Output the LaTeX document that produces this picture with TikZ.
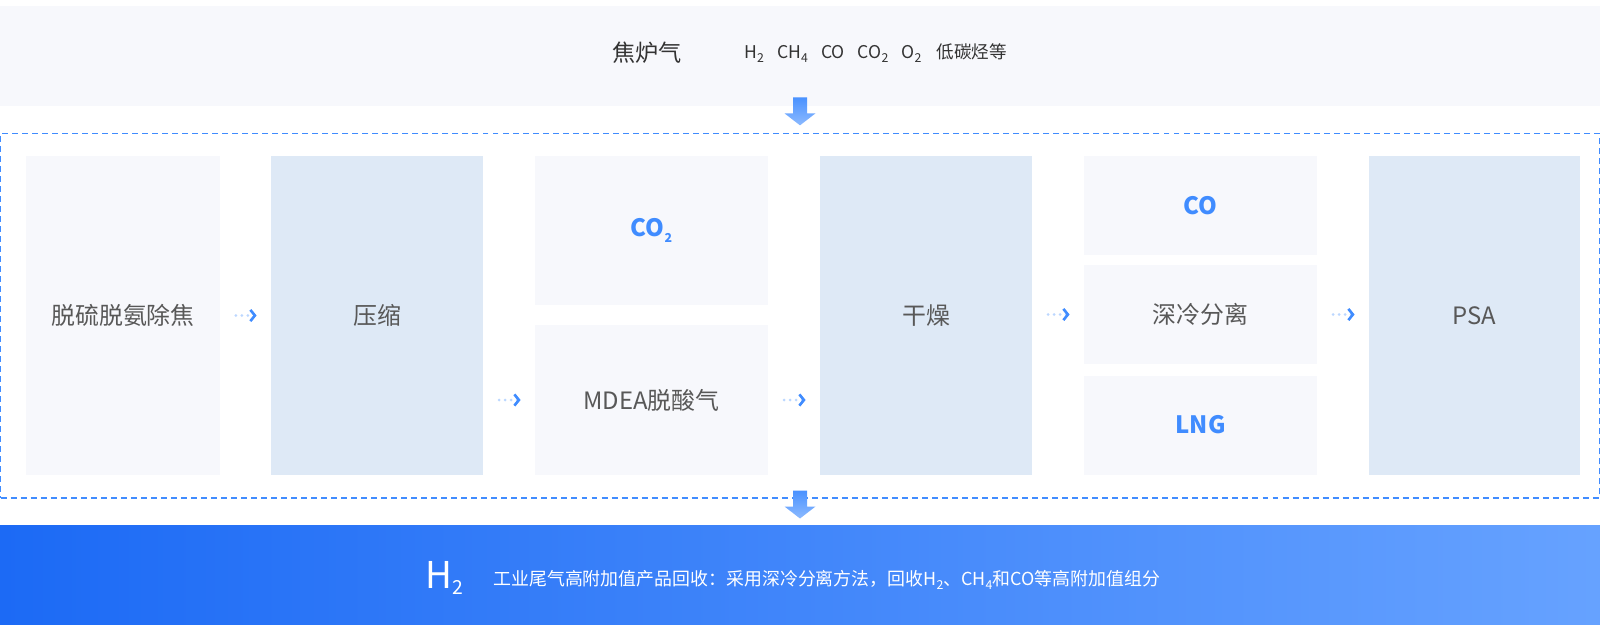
\documentclass[tikz,border=0pt]{standalone}
\usepackage{fontspec}
\setmainfont{Noto Sans CJK SC}
\usepackage{tikz}
\usetikzlibrary{arrows.meta,positioning,calc}
\definecolor{bandgray}{RGB}{247,248,252}
\definecolor{boxlight}{RGB}{247,248,252}
\definecolor{boxblue}{RGB}{222,233,246}
\definecolor{accent}{RGB}{64,140,255}
\definecolor{labelgray}{RGB}{88,88,88}
\definecolor{textdark}{RGB}{51,51,51}
\definecolor{gradleft}{RGB}{28,106,245}
\definecolor{gradright}{RGB}{102,162,255}
\newcommand{\lowidx}[1]{\raisebox{-0.45ex}{\scriptsize #1}}

\begin{document}
\begin{tikzpicture}[x=0.02cm,y=-0.02cm,
    stage/.style={inner sep=0pt, text=labelgray, font=\fontsize{13.6}{16}\selectfont},
    gas/.style={inner sep=0pt, text=accent, font=\fontsize{13.6}{16}\selectfont\bfseries},
    flow/.style={draw=accent!35, line width=1.7pt, line cap=round, dash pattern=on 0pt off 3.4pt,
        shorten <=9pt, shorten >=8pt,
        -{Straight Barb[length=2.6pt,width=6.4pt,line width=1.5pt,color=accent]}},
    blockarrow/.style={top color=accent!95, bottom color=accent!60}]
    \useasboundingbox (0,0) rectangle (1600,630);
    % feed gas band
    \node[fill=bandgray, inner sep=0pt, minimum width=32cm, minimum height=2cm] (feed) at (800,56) {};
    \node[anchor=west, inner sep=0pt, text=textdark, font=\fontsize{13.2}{16}\selectfont] (feedname) at (612,53) {焦炉气};
    \node[anchor=west, inner sep=0pt, text=textdark, font=\fontsize{10}{12}\selectfont] (feedmix) at (744,53)
        {H\lowidx{2}\hspace{0.75em}CH\lowidx{4}\hspace{0.75em}CO\hspace{0.75em}CO\lowidx{2}\hspace{0.75em}O\lowidx{2}\hspace{0.85em}低碳烃等};
    % process frame
    \node[draw=accent, line width=0.6pt, dash pattern=on 3.4pt off 2.3pt, inner sep=0pt,
        minimum width=31.98cm, minimum height=7.3cm] (frame) at (800,315.5) {};
    \node[stage, fill=boxlight, minimum width=3.87cm, minimum height=6.38cm] (b1) at (123,315.5) {脱硫脱氨除焦};
    \node[stage, fill=boxblue, minimum width=4.24cm, minimum height=6.38cm] (b2) at (377,315.5) {压缩};
    \node[gas, fill=boxlight, minimum width=4.66cm, minimum height=2.98cm] (co2) at (651.5,230.5) {CO\lowidx{2}};
    \node[stage, fill=boxlight, minimum width=4.66cm, minimum height=3cm] (mdea) at (651.5,400) {MDEA脱酸气};
    \node[stage, fill=boxblue, minimum width=4.24cm, minimum height=6.38cm] (b4) at (926,315.5) {干燥};
    \node[gas, fill=boxlight, minimum width=4.66cm, minimum height=1.98cm] (co) at (1200.5,205.5) {CO};
    \node[stage, fill=boxlight, minimum width=4.66cm, minimum height=1.98cm] (cryo) at (1200.5,314.5) {深冷分离};
    \node[gas, fill=boxlight, minimum width=4.66cm, minimum height=1.98cm] (lng) at (1200.5,425) {LNG};
    \node[stage, fill=boxblue, minimum width=4.22cm, minimum height=6.38cm] (psa) at (1474.5,315.5) {PSA};
    \draw[flow] (b1.east) -- (b2.west);
    \draw[flow] (b2.east |- mdea.west) -- (mdea.west);
    \draw[flow] (mdea.east) -- (b4.west |- mdea.east);
    \draw[flow] (b4.east |- cryo.west) -- (cryo.west);
    \draw[flow] (cryo.east) -- (psa.west |- cryo.east);
    % product band
    \node[left color=gradleft, right color=gradright, inner sep=0pt,
        minimum width=32cm, minimum height=1.98cm] (product) at (800,575) {};
    \node[anchor=west, inner sep=0pt, text=white, font=\fontsize{21}{24}\selectfont] (h2) at (425,578)
        {H\raisebox{-0.3ex}{\fontsize{11}{12}\selectfont 2}};
    \node[anchor=west, inner sep=0pt, text=white, font=\fontsize{10.2}{12}\selectfont] (note) at (493,580)
        {工业尾气高附加值产品回收：采用深冷分离方法，回收H\lowidx{2}、CH\lowidx{4}和CO等高附加值组分};
    % block arrows
    \shade[blockarrow] ($(feed.south)+(-7,-9)$) -- ++(14,0) -- ++(0,16) -- ++(8.5,0) -- ++(-15.5,12)
        -- ++(-15.5,-12) -- ++(8.5,0) -- cycle;
    \shade[blockarrow] ($(frame.south)+(-7,-8)$) -- ++(14,0) -- ++(0,16) -- ++(8.5,0) -- ++(-15.5,12)
        -- ++(-15.5,-12) -- ++(8.5,0) -- cycle;
\end{tikzpicture}
\end{document}
